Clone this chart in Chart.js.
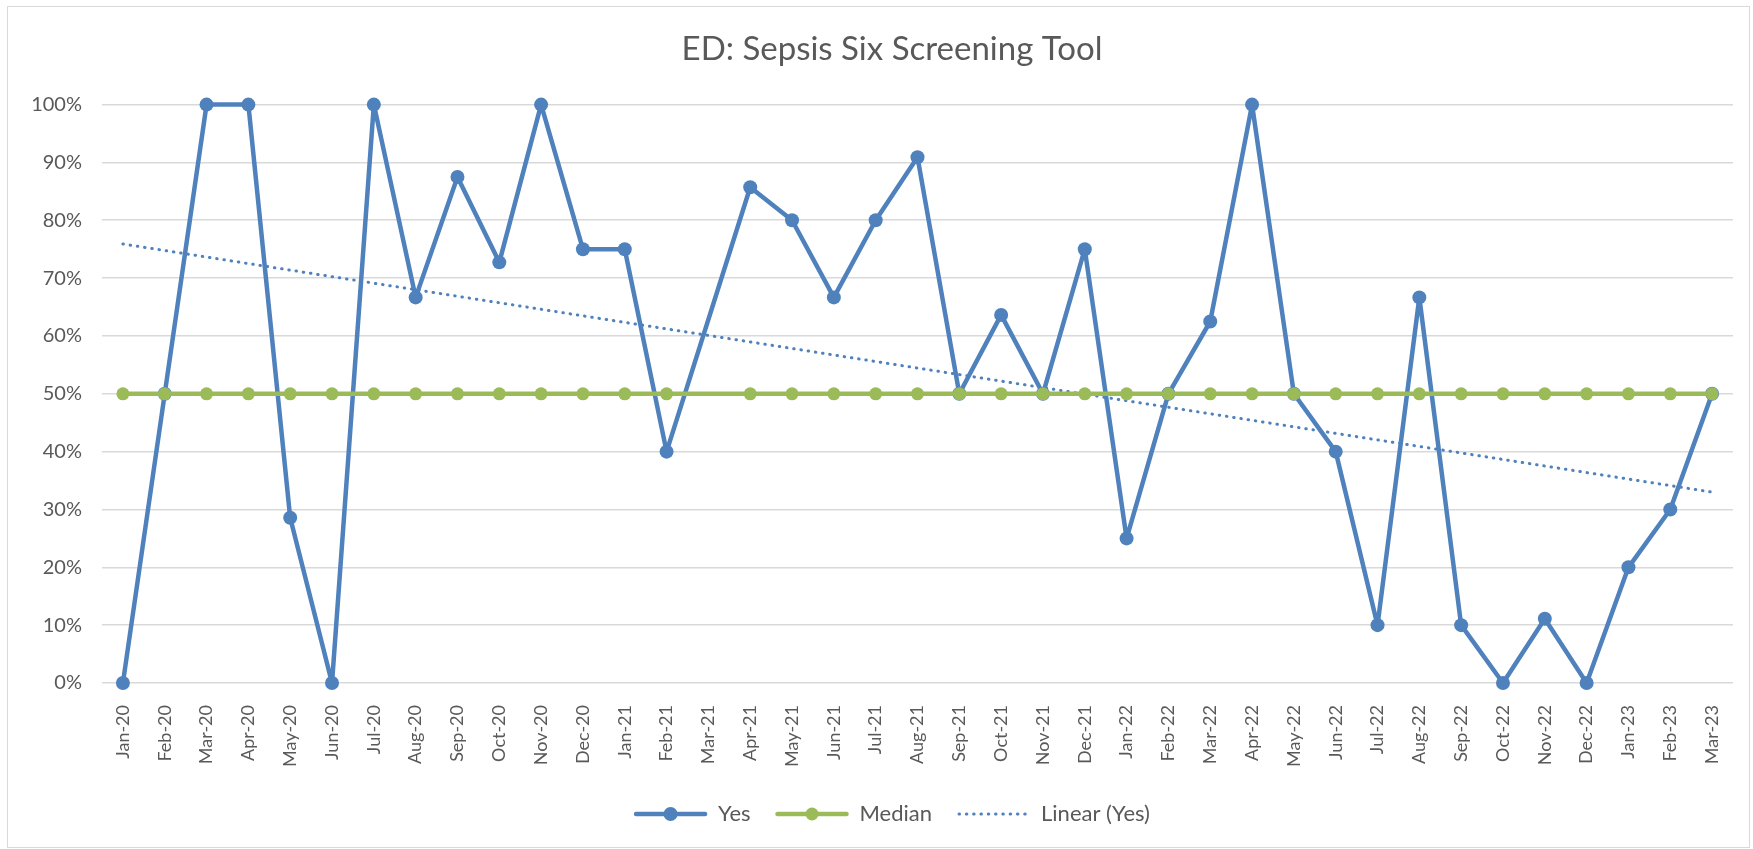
<!DOCTYPE html>
<html>
<head>
<meta charset="utf-8">
<script src="https://cdn.jsdelivr.net/npm/chart.js@4"></script>
<style>
  html, body { margin: 0; padding: 0; background: #fff; }
  #marco {
    position: absolute; left: 7px; top: 6px;
    width: 1741px; height: 840px;
    border: 1px solid #d9d9d9;
  }
</style>
</head>
<body>
<div id="marco"><canvas id="grafico"></canvas></div>
<script>
// Datos
const meses = ['Jan-20','Feb-20','Mar-20','Apr-20','May-20','Jun-20','Jul-20','Aug-20','Sep-20','Oct-20','Nov-20','Dec-20',
  'Jan-21','Feb-21','Mar-21','Apr-21','May-21','Jun-21','Jul-21','Aug-21','Sep-21','Oct-21','Nov-21','Dec-21',
  'Jan-22','Feb-22','Mar-22','Apr-22','May-22','Jun-22','Jul-22','Aug-22','Sep-22','Oct-22','Nov-22','Dec-22',
  'Jan-23','Feb-23','Mar-23'];

const valoresYes = [0, 50, 100, 100, 28.57, 0, 100, 66.67, 87.5, 72.73, 100, 75,
  75, 40, null, 85.71, 80, 66.67, 80, 90.91, 50, 63.64, 50, 75,
  25, 50, 62.5, 100, 50, 40, 10, 66.67, 10, 0, 11.11, 0,
  20, 30, 50];

const valoresMediana = [50, 50, 50, 50, 50, 50, 50, 50, 50, 50, 50, 50,
  50, 50, null, 50, 50, 50, 50, 50, 50, 50, 50, 50,
  50, 50, 50, 50, 50, 50, 50, 50, 50, 50, 50, 50,
  50, 50, 50];

// tendencia lineal: solo los extremos
const valoresTendencia = [75.9, null, null, null, null, null, null, null, null, null, null, null,
  null, null, null, null, null, null, null, null, null, null, null, null,
  null, null, null, null, null, null, null, null, null, null, null, null,
  null, null, 33];

const ticksY = [0, 10, 20, 30, 40, 50, 60, 70, 80, 90, 100];

const azul = '#4f81bd';
const verde = '#9bbb59';
const gris = '#595959';
const fuente = 'Lato, "Open Sans", sans-serif';

// dibuja las muestras de la leyenda como en Excel (línea + marcador)
const muestrasLeyenda = {
  id: 'muestrasLeyenda',
  afterLayout(chart) {
    // que las etiquetas del eje Y no se recorten por el padding izquierdo
    chart.scales.y.left = 0;
  },
  afterDraw(chart) {
    const leyenda = chart.legend;
    if (!leyenda || !leyenda.legendHitBoxes) return;
    const ctx = chart.ctx;
    const ancho = leyenda.options.labels.boxWidth;
    leyenda.legendHitBoxes.forEach((caja, i) => {
      const ds = chart.data.datasets[leyenda.legendItems[i].datasetIndex];
      const cy = caja.top + caja.height / 2;
      ctx.save();
      ctx.strokeStyle = ds.borderColor;
      ctx.lineWidth = ds.borderWidth;
      ctx.lineCap = ds.borderCapStyle || 'round';
      ctx.setLineDash(ds.borderDash || []);
      ctx.beginPath();
      ctx.moveTo(caja.left + 2, cy);
      ctx.lineTo(caja.left + ancho - 2, cy);
      ctx.stroke();
      if (ds.pointRadius > 0) {
        ctx.setLineDash([]);
        ctx.fillStyle = ds.pointBackgroundColor;
        ctx.beginPath();
        ctx.arc(caja.left + ancho / 2, cy, ds.pointRadius, 0, Math.PI * 2);
        ctx.fill();
      }
      ctx.restore();
    });
  }
};

document.addEventListener('DOMContentLoaded', () => {
  const ctx = document.getElementById('grafico').getContext('2d');
  new Chart(ctx, {
    type: 'line',
    data: {
      labels: meses,
      datasets: [{
        label: 'Yes',
        data: valoresYes,
        borderColor: azul,
        backgroundColor: azul,
        pointBackgroundColor: azul,
        pointBorderColor: azul,
        borderWidth: 4.5,
        borderJoinStyle: 'round',
        borderCapStyle: 'round',
        pointRadius: 7,
        pointBorderWidth: 0,
        spanGaps: true,
        clip: false,
        order: 1
      }, {
        label: 'Median',
        data: valoresMediana,
        borderColor: verde,
        backgroundColor: verde,
        pointBackgroundColor: verde,
        pointBorderColor: verde,
        borderWidth: 4.5,
        borderJoinStyle: 'round',
        borderCapStyle: 'round',
        pointRadius: 6.5,
        pointBorderWidth: 0,
        spanGaps: true,
        clip: false,
        order: 0
      }, {
        label: 'Linear (Yes)',
        data: valoresTendencia,
        borderColor: azul,
        backgroundColor: azul,
        borderWidth: 3,
        borderDash: [0.5, 6.8],
        borderCapStyle: 'round',
        pointRadius: 0,
        spanGaps: true,
        order: 2
      }]
    },
    options: {
      responsive: true,
      maintainAspectRatio: false,
      animation: false,
      layout: {
        padding: { left: 43, right: 16, top: 0, bottom: 12 }
      },
      plugins: {
        title: {
          display: true,
          text: 'ED: Sepsis Six Screening Tool',
          color: gris,
          font: { family: fuente, size: 33, weight: 'normal' },
          padding: { top: 23, bottom: 35 }
        },
        legend: {
          position: 'bottom',
          labels: {
            color: gris,
            font: { family: fuente, size: 22 },
            boxWidth: 73,
            boxHeight: 10,
            padding: 25,
            sort: (a, b) => a.datasetIndex - b.datasetIndex,
            generateLabels: (chart) => {
              const items = Chart.defaults.plugins.legend.labels.generateLabels(chart);
              items.forEach(it => {
                it.fillStyle = 'rgba(0,0,0,0)';
                it.strokeStyle = 'rgba(0,0,0,0)';
                it.lineWidth = 0;
              });
              return items;
            }
          }
        },
        tooltip: { enabled: false }
      },
      scales: {
        x: {
          offset: true,
          grid: { display: false },
          border: { display: false },
          ticks: {
            color: gris,
            font: { family: fuente, size: 18 },
            minRotation: 90,
            maxRotation: 90,
            autoSkip: false,
            padding: 14
          },
          afterFit: (s) => { s.height = 95; }
        },
        y: {
          min: 0,
          max: 100,
          grid: { color: '#d9d9d9', lineWidth: 1.6, drawTicks: false },
          border: { display: false },
          afterBuildTicks: (s) => { s.ticks = ticksY.map(v => ({ value: v })); },
          ticks: {
            color: gris,
            font: { family: fuente, size: 20 },
            padding: 20,
            callback: (v) => v + '%'
          },
          afterFit: (s) => { s.width = 51; }
        }
      }
    },
    plugins: [muestrasLeyenda]
  });
});
</script>
</body>
</html>
